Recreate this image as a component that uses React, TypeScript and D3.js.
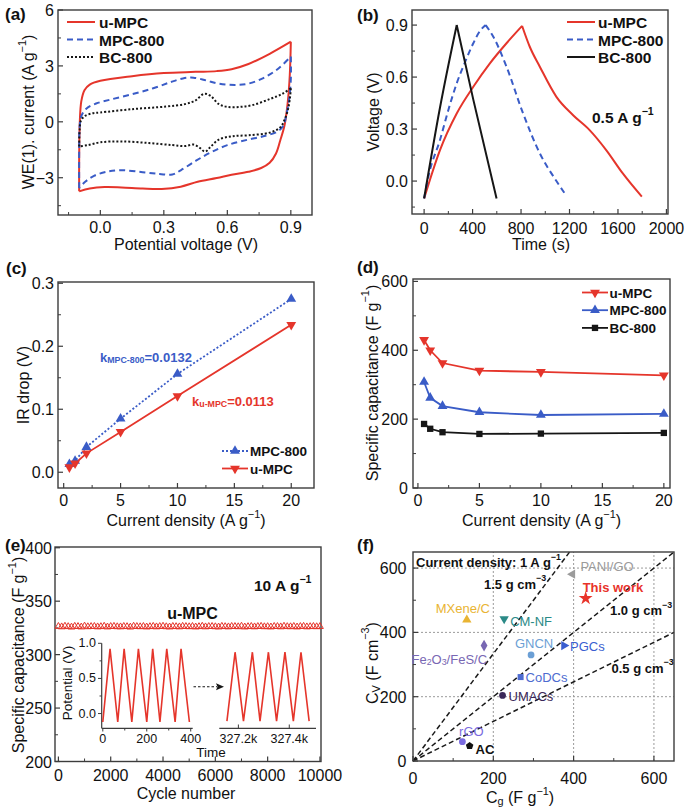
import React from 'react';
import * as d3 from 'd3';

const FONT = "'Liberation Sans', Arial, Helvetica, sans-serif";
const RED = '#e5352b';
const BLUE = '#3a5cc7';
const BLK = '#161616';
const AX = '#3c3c3c';

// ---------- (a) CV curves: [potential V, current A/g]
const cvSeries = ['u-MPC', 'MPC-800', 'BC-800'];
const cvUmpcAnodic: [number, number][] = [[-0.1,-3.73],[-0.1,-2.0],[-0.097,0.0],[-0.09,1.1],[-0.075,1.7],[-0.05,2.0],[0.0,2.2],[0.15,2.45],[0.3,2.62],[0.45,2.68],[0.55,2.72],[0.62,2.82],[0.7,3.1],[0.8,3.65],[0.9,4.3]];
const cvUmpcCathodic: [number, number][] = [[0.9,4.3],[0.895,2.5],[0.885,1.0],[0.87,-0.2],[0.85,-1.0],[0.83,-1.7],[0.8,-2.2],[0.76,-2.48],[0.7,-2.68],[0.62,-2.84],[0.55,-3.02],[0.46,-3.22],[0.38,-3.48],[0.29,-3.6],[0.2,-3.58],[0.1,-3.52],[0.02,-3.5],[-0.05,-3.58],[-0.1,-3.73]];
const cvMpcAnodic: [number, number][] = [[-0.1,-3.55],[-0.1,-1.5],[-0.098,-0.3],[-0.09,0.3],[-0.065,0.72],[-0.02,0.98],[0.05,1.2],[0.15,1.48],[0.25,1.8],[0.33,2.12],[0.39,2.33],[0.44,2.37],[0.5,2.22],[0.56,2.05],[0.64,1.98],[0.7,2.05],[0.77,2.35],[0.84,2.85],[0.9,3.5]];
const cvMpcCathodic: [number, number][] = [[0.9,3.5],[0.9,2.3],[0.892,1.2],[0.88,0.45],[0.865,-0.2],[0.84,-0.5],[0.78,-0.75],[0.7,-0.95],[0.6,-1.25],[0.52,-1.65],[0.45,-2.1],[0.38,-2.6],[0.34,-2.83],[0.28,-2.8],[0.2,-2.7],[0.1,-2.6],[0.03,-2.68],[-0.03,-2.9],[-0.07,-3.2],[-0.1,-3.55]];
const cvBcAnodic: [number, number][] = [[-0.1,-1.32],[-0.098,-0.5],[-0.092,0.05],[-0.075,0.3],[-0.04,0.45],[0.0,0.5],[0.15,0.68],[0.31,0.82],[0.4,0.95],[0.45,1.15],[0.49,1.5],[0.52,1.4],[0.56,0.95],[0.6,0.8],[0.66,0.8],[0.72,0.9],[0.8,1.22],[0.86,1.5],[0.9,1.8]];
const cvBcCathodic: [number, number][] = [[0.9,1.8],[0.895,1.2],[0.885,0.6],[0.87,0.1],[0.85,-0.3],[0.8,-0.58],[0.7,-0.72],[0.62,-0.78],[0.56,-0.95],[0.52,-1.35],[0.495,-1.6],[0.47,-1.4],[0.44,-1.22],[0.4,-1.3],[0.34,-1.25],[0.23,-1.14],[0.1,-1.05],[0.0,-1.1],[-0.06,-1.25],[-0.1,-1.32]];

// ---------- (b) GCD curves: [time s, voltage V]
const gcdUmpc: [number, number][] = [[0,-0.1],[131,0.179],[269,0.39],[406,0.544],[543,0.679],[680,0.795],[809,0.895],[872,0.775],[955,0.66],[1092,0.486],[1230,0.38],[1366,0.294],[1503,0.179],[1640,0.044],[1797,-0.09]];
const gcdMpc800: [number, number][] = [[0,-0.1],[40,0.04],[131,0.237],[200,0.41],[269,0.564],[340,0.69],[406,0.795],[460,0.865],[508,0.9],[571,0.833],[680,0.66],[817,0.39],[955,0.16],[1092,0.0],[1160,-0.07]];
const gcdBc800: [number, number][] = [[0,-0.1],[130,0.42],[269,0.9],[406,0.47],[598,-0.1]];

// ---------- (c) IR drop
const irDensity = [0.5, 1, 2, 5, 10, 20];
const irMpc800 = [0.013, 0.018, 0.04, 0.085, 0.156, 0.275];
const irUmpc = [0.008, 0.014, 0.03, 0.064, 0.121, 0.234];

// ---------- (d) specific capacitance
const capDensity = [0.5, 1, 2, 5, 10, 20];
const capUmpc = [430, 400, 363, 341, 337, 327];
const capMpc800 = [308, 262, 238, 220, 212, 215];
const capBc800 = [186, 172, 162, 157, 158, 160];

// ---------- (e) cycling
const cycleNumber = d3.range(0, 10001, 125);
const cycleCap = [326.4,326.0,326.6,326.2,325.8,326.5,326.3,325.9,326.7,326.1,
  326.3,326.4,326.0,326.2,326.6,325.9,326.3,326.5,326.1,326.0,
  326.4,326.2,325.8,326.6,326.3,326.1,326.4,325.9,326.2,326.5,
  326.0,326.3,326.6,326.1,325.9,326.4,326.2,326.0,326.5,326.3,
  326.1,326.4,325.9,326.2,326.6,326.0,326.3,326.4,326.1,325.9,
  326.5,326.2,326.0,326.4,326.3,326.1,326.6,325.9,326.2,326.4,
  326.0,326.3,326.5,326.1,326.2,325.9,326.4,326.3,326.0,326.6,
  326.2,326.1,326.4,325.9,326.3,326.5,326.0,326.2,326.4,326.1,326.3];
const insetEarly: [number, number][] = [[0,-0.12],[33,0.92],[68,-0.12],[97,0.92],[132,-0.12],[162,0.92],[200,-0.12],[227,0.92],[260,-0.12],[291,0.92],[329,-0.12],[356,0.92],[394,-0.12]];
const insetLate: [number, number][] = [[327155,-0.107],[327187,0.873],[327220,-0.107],[327255,0.873],[327285,-0.107],[327318,0.873],[327350,-0.107],[327383,0.873],[327416,-0.107],[327446,0.873],[327478,-0.107]];

// ---------- (f) comparison
const compNames = ['PANI/GO', 'This work', 'MXene/C', 'CM-NF', 'Fe_{2}O_{3}/FeS/C', 'GNCN', 'PGCs', 'CoDCs', 'UMACs', 'rGO', 'AC'];
const compCg = [397, 430, 134, 227, 177, 294, 376, 268, 223, 123, 141];
const compCv = [581, 506, 439, 442, 359, 330, 359, 261, 204, 60, 47];
const densityLabels = ['1.5 g cm^{−3}', '1.0 g cm^{−3}', '0.5 g cm^{−3}'];
const densityEndCg = [390, 650, 650];
const densityEndCv = [650, 650, 400];

// ---------- styles / layout
const compStyle: Record<string, any> = {
  'PANI/GO': { c: '#9b9b9b', sym: 'tri', rot: -90, dx: 8, dy: -8, a: 'start' },
  'This work': { c: '#e8332a', sym: 'star', rot: 0, dx: -3, dy: -11, a: 'start', w: 'bold' },
  'MXene/C': { c: '#e9b433', sym: 'tri', rot: 0, dx: -4, dy: -12, a: 'middle' },
  'CM-NF': { c: '#2b8a87', sym: 'tri', rot: 180, dx: 6, dy: 2, a: 'start' },
  'Fe_{2}O_{3}/FeS/C': { c: '#7867b3', sym: 'diamond', rot: 0, dx: 3, dy: 13, a: 'end' },
  'GNCN': { c: '#6b9fd5', sym: 'circle', rot: 0, dx: 3, dy: -12, a: 'middle' },
  'PGCs': { c: '#3a5ed0', sym: 'tri', rot: 90, dx: 6, dy: 0, a: 'start' },
  'CoDCs': { c: '#4d6bd0', sym: 'square', rot: 0, dx: 5, dy: 0, a: 'start' },
  'UMACs': { c: '#3a2758', sym: 'circle', rot: 0, dx: 6, dy: 1, a: 'start' },
  'rGO': { c: '#7a6be0', sym: 'circle', rot: 0, dx: 9, dy: -11, a: 'middle' },
  'AC': { c: '#111111', sym: 'pent', rot: 0, dx: 6, dy: 3, a: 'start', w: 'bold', tc: '#111' },
};

type Part = { t: string; s?: 'sup' | 'sub' };
function parse(s: string): Part[] {
  const out: Part[] = [];
  const re = /([\^_])\{([^}]*)\}/g;
  let last = 0;
  let m: RegExpExecArray | null;
  while ((m = re.exec(s))) {
    if (m.index > last) out.push({ t: s.slice(last, m.index) });
    out.push({ t: m[2], s: m[1] === '^' ? 'sup' : 'sub' });
    last = re.lastIndex;
  }
  if (last < s.length) out.push({ t: s.slice(last) });
  return out;
}

function Txt({ x, y, s, fs = 16, anchor = 'middle', weight = 'normal', fill = '#111', rotate = 0 }: any) {
  const parts = parse(s);
  let cur = 0;
  return (
    <text transform={`translate(${x},${y}) rotate(${rotate})`} textAnchor={anchor} dominantBaseline="central"
      fontSize={fs} fontWeight={weight} fill={fill} fontFamily={FONT}>
      {parts.map((p, i) => {
        const target = p.s === 'sup' ? -0.4 * fs : p.s === 'sub' ? 0.25 * fs : 0;
        const dy = target - cur;
        cur = target;
        return <tspan key={i} dy={dy} fontSize={p.s ? fs * 0.68 : fs}>{p.t}</tspan>;
      })}
    </text>
  );
}

const minus = (v: number, f: (n: number) => string) => (v < 0 ? '−' + f(-v) : f(v));

function Frame({ xs, ys, xMaj, xMin = [], yMaj, yMin = [], xFmt = String, yFmt = String, xLabY, yLabX, fs = 16 }: any) {
  const [xl, xr] = xs.range();
  const [yb, yt] = ys.range();
  return (
    <g>
      {xMin.map((v: number, i: number) => <line key={'a' + i} x1={xs(v)} x2={xs(v)} y1={yb} y2={yb - 3} stroke={AX} strokeWidth={1} />)}
      {xMaj.map((v: number, i: number) => <line key={'b' + i} x1={xs(v)} x2={xs(v)} y1={yb} y2={yb - 5} stroke={AX} strokeWidth={1.2} />)}
      {yMin.map((v: number, i: number) => <line key={'c' + i} x1={xl} x2={xl + 3} y1={ys(v)} y2={ys(v)} stroke={AX} strokeWidth={1} />)}
      {yMaj.map((v: number, i: number) => <line key={'d' + i} x1={xl} x2={xl + 5} y1={ys(v)} y2={ys(v)} stroke={AX} strokeWidth={1.2} />)}
      <rect x={xl} y={yt} width={xr - xl} height={yb - yt} fill="none" stroke={AX} strokeWidth={1.4} />
      {xMaj.map((v: number, i: number) => <Txt key={'e' + i} x={xs(v)} y={xLabY} s={minus(v, xFmt)} fs={fs} />)}
      {yMaj.map((v: number, i: number) => <Txt key={'f' + i} x={yLabX} y={ys(v)} s={minus(v, yFmt)} fs={fs} anchor="end" />)}
    </g>
  );
}

const sym = (type: string, size: number) => {
  const t = type === 'tri' ? d3.symbolTriangle : type === 'square' ? d3.symbolSquare : type === 'diamond' ? d3.symbolDiamond
    : type === 'star' ? d3.symbolStar : type === 'circle' ? d3.symbolCircle : d3.symbolCircle;
  if (type === 'pent') {
    const r = Math.sqrt(size / 2.4);
    const pts = d3.range(5).map(i => {
      const a = -Math.PI / 2 + (i * 2 * Math.PI) / 5;
      return [r * Math.cos(a), r * Math.sin(a)];
    });
    return 'M' + pts.map(p => p.join(',')).join('L') + 'Z';
  }
  return d3.symbol(t, size)() as string;
};

function PanelA() {
  const xs = d3.scaleLinear().domain([-0.2, 1.0]).range([58, 312]);
  const ys = d3.scaleLinear().domain([-5, 6]).range([215, 10]);
  const line = d3.line<[number, number]>().x(d => xs(d[0])).y(d => ys(d[1])).curve(d3.curveCatmullRom.alpha(0.5));
  const styles = [
    { c: RED, dash: undefined, data: [cvUmpcAnodic, cvUmpcCathodic] },
    { c: BLUE, dash: '6,4', data: [cvMpcAnodic, cvMpcCathodic] },
    { c: BLK, dash: '2,2', data: [cvBcAnodic, cvBcCathodic] },
  ];
  return (
    <g>
      <Frame xs={xs} ys={ys} xMaj={[0, 0.3, 0.6, 0.9]} xMin={[-0.15, 0.15, 0.45, 0.75]} yMaj={[-3, 0, 3, 6]} yMin={[-4.5, -1.5, 1.5, 4.5]}
        xFmt={d3.format('.1f')} yFmt={String} xLabY={227} yLabX={54} />
      {styles.map((s, i) => (
        <path key={i} d={(line(s.data[0]) || '') + (line(s.data[1]) || '')} fill="none" stroke={s.c} strokeWidth={2} strokeDasharray={s.dash} />
      ))}
      {cvSeries.map((n, i) => (
        <g key={n}>
          <line x1={67} x2={95} y1={22 + i * 17.5} y2={22 + i * 17.5} stroke={styles[i].c} strokeWidth={2} strokeDasharray={styles[i].dash} />
          <Txt x={99} y={22 + i * 17.5} s={n} fs={15.5} weight="bold" anchor="start" />
        </g>
      ))}
      <Txt x={186} y={244} s="Potential voltage (V)" fs={16} />
      <Txt x={28} y={112} s="WE(1). current (A g^{−1})" fs={16} rotate={-90} />
      <Txt x={5} y={14} s="(a)" fs={17} weight="bold" anchor="start" />
    </g>
  );
}

function PanelB() {
  const xs = d3.scaleLinear().domain([-100, 2013]).range([412, 668]);
  const ys = d3.scaleLinear().domain([-0.19, 0.987]).range([214, 10]);
  const line = d3.line<[number, number]>().x(d => xs(d[0])).y(d => ys(d[1])).curve(d3.curveMonotoneX);
  const split = (d: [number, number][]) => {
    const k = d3.maxIndex(d, p => p[1]);
    return (line(d.slice(0, k + 1)) || '') + (line(d.slice(k)) || '');
  };
  const series = [
    { n: 'u-MPC', c: RED, dash: undefined, d: gcdUmpc },
    { n: 'MPC-800', c: BLUE, dash: '6,4', d: gcdMpc800 },
    { n: 'BC-800', c: BLK, dash: undefined, d: gcdBc800 },
  ];
  return (
    <g>
      <Frame xs={xs} ys={ys} xMaj={[0, 400, 800, 1200, 1600, 2000]} xMin={[200, 600, 1000, 1400, 1800]} yMaj={[0, 0.3, 0.6, 0.9]} yMin={[-0.15, 0.15, 0.45, 0.75]}
        xFmt={String} yFmt={d3.format('.1f')} xLabY={228} yLabX={408} />
      {series.map(s => <path key={s.n} d={split(s.d)} fill="none" stroke={s.c} strokeWidth={2} strokeDasharray={s.dash} strokeLinejoin="miter" />)}
      {series.map((s, i) => (
        <g key={'l' + i}>
          <line x1={567} x2={595} y1={22 + i * 17.5} y2={22 + i * 17.5} stroke={s.c} strokeWidth={2} strokeDasharray={s.dash} />
          <Txt x={598} y={22 + i * 17.5} s={s.n} fs={15.5} weight="bold" anchor="start" />
        </g>
      ))}
      <Txt x={592} y={117} s="0.5 A g^{−1}" fs={15.5} weight="bold" anchor="start" />
      <Txt x={541} y={244} s="Time (s)" fs={16} />
      <Txt x={373} y={112} s="Voltage (V)" fs={16} rotate={-90} />
      <Txt x={357} y={15} s="(b)" fs={17} weight="bold" anchor="start" />
    </g>
  );
}

function PanelC() {
  const xs = d3.scaleLinear().domain([-0.5, 22]).range([58, 314]);
  const ys = d3.scaleLinear().domain([-0.025, 0.302]).range([488, 282]);
  const line = d3.line<number>().x((d, i) => xs(irDensity[i])).y(d => ys(d));
  const up = sym('tri', 42);
  return (
    <g>
      <Frame xs={xs} ys={ys} xMaj={[0, 5, 10, 15, 20]} xMin={[2.5, 7.5, 12.5, 17.5]} yMaj={[0, 0.1, 0.2, 0.3]} yMin={[0.05, 0.15, 0.25]}
        xFmt={String} yFmt={d3.format('.1f')} xLabY={500} yLabX={54} />
      <path d={line(irMpc800) || ''} fill="none" stroke={BLUE} strokeWidth={1.8} strokeDasharray="2,2" />
      <path d={line(irUmpc) || ''} fill="none" stroke={RED} strokeWidth={1.8} />
      {irMpc800.map((v, i) => <path key={'m' + i} d={up} transform={`translate(${xs(irDensity[i])},${ys(v)})`} fill={BLUE} />)}
      {irUmpc.map((v, i) => <path key={'u' + i} d={up} transform={`translate(${xs(irDensity[i])},${ys(v)}) rotate(180)`} fill={RED} />)}
      <Txt x={100} y={357} s="k_{MPC-800}=0.0132" fs={13} weight="bold" anchor="start" fill={BLUE} />
      <Txt x={192} y={401} s="k_{u-MPC}=0.0113" fs={13} weight="bold" anchor="start" fill={RED} />
      <line x1={222} x2={248} y1={451} y2={451} stroke={BLUE} strokeWidth={1.8} strokeDasharray="2,2" />
      <path d={up} transform="translate(235,451)" fill={BLUE} />
      <Txt x={250} y={451} s="MPC-800" fs={13.5} weight="bold" anchor="start" />
      <line x1={222} x2={248} y1={468.5} y2={468.5} stroke={RED} strokeWidth={1.8} />
      <path d={up} transform="translate(235,468.5) rotate(180)" fill={RED} />
      <Txt x={250} y={468.5} s="u-MPC" fs={13.5} weight="bold" anchor="start" />
      <Txt x={186} y={520} s="Current density (A g^{−1})" fs={16} />
      <Txt x={23} y={385} s="IR drop (V)" fs={16} rotate={-90} />
      <Txt x={6} y={268} s="(c)" fs={17} weight="bold" anchor="start" />
    </g>
  );
}

function PanelD() {
  const xs = d3.scaleLinear().domain([-0.4, 20.5]).range([413, 670]);
  const ys = d3.scaleLinear().domain([0, 607]).range([488, 279]);
  const line = d3.line<number>().x((d, i) => xs(capDensity[i])).y(d => ys(d));
  const tri = sym('tri', 42);
  const sq = sym('square', 40);
  const series = [
    { n: 'u-MPC', c: RED, d: capUmpc, m: tri, r: 180 },
    { n: 'MPC-800', c: BLUE, d: capMpc800, m: tri, r: 0 },
    { n: 'BC-800', c: BLK, d: capBc800, m: sq, r: 0 },
  ];
  return (
    <g>
      <Frame xs={xs} ys={ys} xMaj={[0, 5, 10, 15, 20]} xMin={[2.5, 7.5, 12.5, 17.5]} yMaj={[0, 200, 400, 600]} yMin={[100, 300, 500]}
        xFmt={String} yFmt={String} xLabY={500} yLabX={408} />
      {series.map(s => (
        <g key={s.n}>
          <path d={line(s.d) || ''} fill="none" stroke={s.c} strokeWidth={1.8} />
          {s.d.map((v, i) => <path key={i} d={s.m} transform={`translate(${xs(capDensity[i])},${ys(v)}) rotate(${s.r})`} fill={s.c} />)}
        </g>
      ))}
      {series.map((s, i) => (
        <g key={'l' + i}>
          <line x1={582} x2={608} y1={292.5 + i * 17.7} y2={292.5 + i * 17.7} stroke={s.c} strokeWidth={1.8} />
          <path d={s.m} transform={`translate(595,${292.5 + i * 17.7}) rotate(${s.r})`} fill={s.c} />
          <Txt x={609.5} y={292.5 + i * 17.7} s={s.n} fs={13.5} weight="bold" anchor="start" />
        </g>
      ))}
      <Txt x={541.5} y={520} s="Current density (A g^{−1})" fs={16} />
      <Txt x={371.5} y={383} s="Specific capacitance (F g^{−1})" fs={16} rotate={-90} />
      <Txt x={357} y={267} s="(d)" fs={17} weight="bold" anchor="start" />
    </g>
  );
}

function PanelE() {
  const xs = d3.scaleLinear().domain([-130, 10040]).range([55, 321]);
  const ys = d3.scaleLinear().domain([200, 400.7]).range([761.5, 547]);
  const tri = sym('tri', 20);
  const ix1 = d3.scaleLinear().domain([-5, 409]).range([101.7, 192.7]);
  const ix2 = d3.scaleLinear().domain([327125, 327505]).range([219.3, 316]);
  const iy = d3.scaleLinear().domain([-0.21, 1.0]).range([728.3, 643.3]);
  const l1 = d3.line<[number, number]>().x(d => ix1(d[0])).y(d => iy(d[1]));
  const l2 = d3.line<[number, number]>().x(d => ix2(d[0])).y(d => iy(d[1]));
  return (
    <g>
      <Frame xs={xs} ys={ys} xMaj={[0, 2000, 4000, 6000, 8000, 10000]} xMin={[1000, 3000, 5000, 7000, 9000]} yMaj={[200, 250, 300, 350, 400]} yMin={[225, 275, 325, 375]}
        xFmt={String} yFmt={String} xLabY={775} yLabX={52} />
      {cycleCap.map((v, i) => <path key={i} d={tri} transform={`translate(${xs(cycleNumber[i])},${ys(v)})`} fill="none" stroke={RED} strokeWidth={1} />)}
      <Txt x={254} y={585} s="10 A g^{−1}" fs={15.5} weight="bold" anchor="start" />
      <Txt x={192.5} y={613} s="u-MPC" fs={16} weight="bold" />
      {/* inset */}
      <line x1={101.7} x2={101.7} y1={643.3} y2={728.3} stroke={AX} strokeWidth={1.2} />
      <line x1={101.7} x2={192.7} y1={728.3} y2={728.3} stroke={AX} strokeWidth={1.2} />
      <line x1={219.3} x2={316} y1={728.3} y2={728.3} stroke={AX} strokeWidth={1.2} />
      {[0, 0.5, 1.0].map(v => <line key={'iy' + v} x1={101.7} x2={98} y1={iy(v)} y2={iy(v)} stroke={AX} strokeWidth={1} />)}
      {[0.25, 0.75].map(v => <line key={'iym' + v} x1={101.7} x2={99.5} y1={iy(v)} y2={iy(v)} stroke={AX} strokeWidth={1} />)}
      {[0, 0.5, 1.0].map(v => <Txt key={'iyl' + v} x={96} y={iy(v)} s={d3.format('.1f')(v)} fs={12.5} anchor="end" />)}
      {[0, 200, 400].map(v => <line key={'ix' + v} x1={ix1(v)} x2={ix1(v)} y1={728.3} y2={731.5} stroke={AX} strokeWidth={1} />)}
      {[100, 300].map(v => <line key={'ixm' + v} x1={ix1(v)} x2={ix1(v)} y1={728.3} y2={730.5} stroke={AX} strokeWidth={1} />)}
      {[0, 200, 400].map(v => <Txt key={'ixl' + v} x={ix1(v)} y={738.5} s={String(v)} fs={12.5} />)}
      {[327200, 327400].map(v => <line key={'ix2' + v} x1={ix2(v)} x2={ix2(v)} y1={728.3} y2={724.5} stroke={AX} strokeWidth={1} />)}
      {[327200, 327400].map(v => <Txt key={'ix2l' + v} x={ix2(v)} y={738.5} s={(v / 1000).toFixed(1) + 'k'} fs={12.5} />)}
      <path d={l1(insetEarly) || ''} fill="none" stroke={RED} strokeWidth={1.6} />
      <path d={l2(insetLate) || ''} fill="none" stroke={RED} strokeWidth={1.6} />
      <line x1={193.5} x2={217} y1={686.7} y2={686.7} stroke={BLK} strokeWidth={1.1} strokeDasharray="2.5,2" />
      <path d="M224,686.7 L216,683.2 L217.5,686.7 L216,690.2 Z" fill={BLK} />
      <Txt x={66.5} y={683} s="Potential (V)" fs={13.5} rotate={-90} />
      <Txt x={211} y={752} s="Time" fs={13.5} />
      <Txt x={186} y={793} s="Cycle number" fs={16} />
      <Txt x={18} y={655} s="Specific capacitance (F g^{−1})" fs={16} rotate={-90} />
      <Txt x={5} y={545} s="(e)" fs={17} weight="bold" anchor="start" />
    </g>
  );
}

function PanelF() {
  const xs = d3.scaleLinear().domain([0, 650]).range([413, 674]);
  const ys = d3.scaleLinear().domain([0, 650]).range([761, 552]);
  return (
    <g>
      {[200, 400, 600].map(v => <line key={'gx' + v} x1={xs(v)} x2={xs(v)} y1={761} y2={552} stroke="#9a9a9a" strokeWidth={1} strokeDasharray="2,2" />)}
      {[200, 400, 600].map(v => <line key={'gy' + v} x1={413} x2={674} y1={ys(v)} y2={ys(v)} stroke="#9a9a9a" strokeWidth={1} strokeDasharray="2,2" />)}
      {densityLabels.map((l, i) => (
        <line key={l} x1={xs(0)} y1={ys(0)} x2={xs(densityEndCg[i])} y2={ys(densityEndCv[i])} stroke="#1a1a1a" strokeWidth={1.5} strokeDasharray="5,3" />
      ))}
      <Frame xs={xs} ys={ys} xMaj={[0, 200, 400, 600]} xMin={[100, 300, 500]} yMaj={[0, 200, 400, 600]} yMin={[100, 300, 500]}
        xFmt={String} yFmt={String} xLabY={778} yLabX={406.5} />
      {compNames.map((n, i) => {
        const st = compStyle[n];
        const size = st.sym === 'star' ? 60 : st.sym === 'tri' ? 38 : st.sym === 'pent' ? 38 : st.sym === 'diamond' ? 40 : 36;
        const px = xs(compCg[i]);
        const py = ys(compCv[i]);
        return (
          <g key={n}>
            <path d={sym(st.sym, size)} transform={`translate(${px},${py}) rotate(${st.rot})`} fill={st.c} />
            <Txt x={px + st.dx} y={py + st.dy} s={n} fs={13} anchor={st.a} fill={st.tc || st.c} weight={st.w || 'normal'} />
          </g>
        );
      })}
      <Txt x={416} y={562} s="Current density: 1  A g^{−1}" fs={13} weight="bold" anchor="start" />
      <Txt x={484} y={583.5} s={densityLabels[0]} fs={13} weight="bold" anchor="start" />
      <Txt x={610} y={610} s={densityLabels[1]} fs={13} weight="bold" anchor="start" />
      <Txt x={611.5} y={667.5} s={densityLabels[2]} fs={13} weight="bold" anchor="start" />
      <Txt x={520} y={797} s="C_{g} (F g^{−1})" fs={16} />
      <Txt x={371.5} y={663} s="C_{V} (F cm^{−3})" fs={16} rotate={-90} />
      <Txt x={357} y={545} s="(f)" fs={17} weight="bold" anchor="start" />
    </g>
  );
}

export default function App() {
  return (
    <svg width={685} height={811} style={{ position: 'absolute', left: 0, top: 0, background: '#fff' }} fontFamily={FONT}>
      <rect width={685} height={811} fill="#fff" />
      <PanelA />
      <PanelB />
      <PanelC />
      <PanelD />
      <PanelE />
      <PanelF />
    </svg>
  );
}
